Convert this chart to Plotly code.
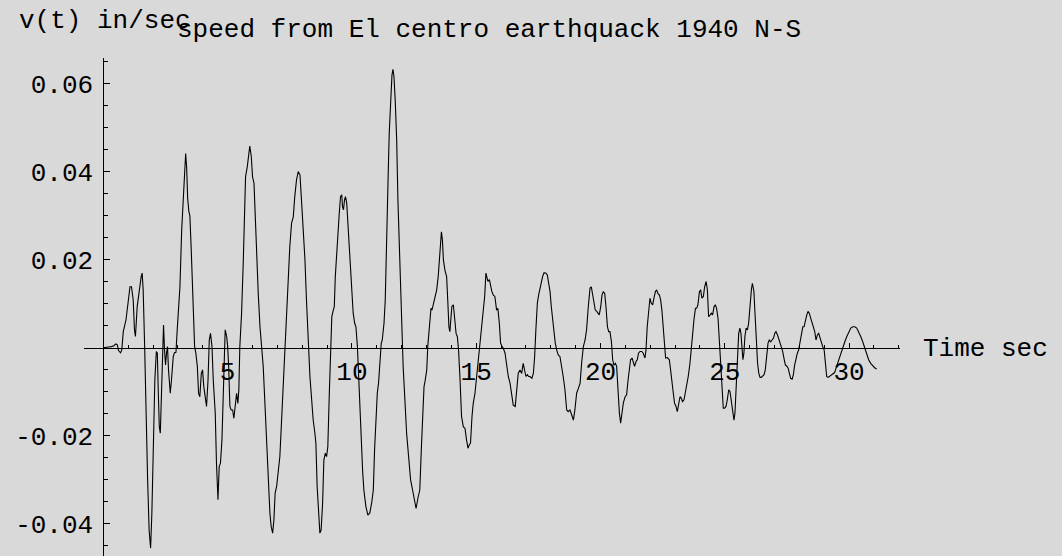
import plotly.graph_objects as go

# Velocity record, El Centro 1940 N-S
time_sec = [
    0.00, 0.06, 0.19, 0.33, 0.42, 0.50, 0.56, 0.61, 0.69, 0.74, 0.80, 0.91, 1.00, 1.07, 1.13, 1.20,
    1.25, 1.29, 1.36, 1.44, 1.52, 1.56, 1.60, 1.66, 1.71, 1.78, 1.84, 1.90, 1.95, 2.01, 2.07, 2.13,
    2.17, 2.21, 2.25, 2.29, 2.33, 2.38, 2.42, 2.46, 2.50, 2.54, 2.58, 2.62, 2.69, 2.74, 2.81, 2.86,
    2.92, 2.97, 3.03, 3.08, 3.15, 3.22, 3.27, 3.31, 3.35, 3.39, 3.44, 3.48, 3.53, 3.57, 3.62, 3.67,
    3.72, 3.78, 3.83, 3.88, 3.94, 3.99, 4.04, 4.10, 4.15, 4.21, 4.26, 4.31, 4.37, 4.42, 4.50, 4.55,
    4.61, 4.66, 4.71, 4.77, 4.82, 4.88, 4.90, 4.96, 5.00, 5.04, 5.09, 5.14, 5.20, 5.25, 5.30, 5.36,
    5.41, 5.45, 5.49, 5.56, 5.63, 5.68, 5.72, 5.79, 5.84, 5.89, 5.95, 6.00, 6.06, 6.11, 6.16, 6.23,
    6.30, 6.36, 6.43, 6.48, 6.54, 6.59, 6.65, 6.70, 6.75, 6.81, 6.86, 6.91, 6.97, 7.02, 7.10, 7.17,
    7.24, 7.30, 7.37, 7.44, 7.50, 7.57, 7.64, 7.70, 7.77, 7.84, 7.91, 7.97, 8.04, 8.11, 8.17, 8.24,
    8.31, 8.38, 8.44, 8.51, 8.55, 8.60, 8.66, 8.71, 8.76, 8.82, 8.87, 8.93, 8.98, 9.03, 9.09, 9.14,
    9.19, 9.25, 9.29, 9.33, 9.38, 9.44, 9.49, 9.54, 9.59, 9.62, 9.66, 9.70, 9.74, 9.79, 9.84, 9.89,
    9.95, 10.00, 10.05, 10.11, 10.16, 10.22, 10.27, 10.32, 10.38, 10.43, 10.48, 10.56, 10.64, 10.72, 10.80, 10.86,
    10.91, 10.97, 11.02, 11.07, 11.13, 11.18, 11.22, 11.29, 11.34, 11.40, 11.45, 11.50, 11.56, 11.61, 11.65, 11.69,
    11.74, 11.80, 11.85, 11.91, 11.96, 12.01, 12.06, 12.13, 12.20, 12.28, 12.36, 12.44, 12.51, 12.58, 12.66, 12.73,
    12.79, 12.84, 12.90, 12.95, 13.01, 13.05, 13.09, 13.14, 13.18, 13.22, 13.25, 13.30, 13.35, 13.41, 13.47, 13.51,
    13.55, 13.60, 13.64, 13.68, 13.74, 13.81, 13.86, 13.90, 13.94, 13.98, 14.02, 14.08, 14.13, 14.19, 14.24, 14.29,
    14.35, 14.41, 14.48, 14.55, 14.61, 14.67, 14.72, 14.77, 14.83, 14.88, 14.95, 15.02, 15.08, 15.15, 15.22, 15.29,
    15.34, 15.39, 15.43, 15.47, 15.53, 15.58, 15.63, 15.69, 15.75, 15.82, 15.87, 15.93, 15.98, 16.04, 16.09, 16.16,
    16.22, 16.29, 16.36, 16.43, 16.49, 16.57, 16.63, 16.69, 16.76, 16.83, 16.89, 16.95, 17.00, 17.06, 17.11, 17.16,
    17.24, 17.30, 17.35, 17.40, 17.46, 17.51, 17.56, 17.62, 17.67, 17.73, 17.81, 17.86, 17.91, 17.97, 18.02, 18.08,
    18.13, 18.18, 18.24, 18.30, 18.37, 18.44, 18.50, 18.57, 18.64, 18.70, 18.77, 18.84, 18.91, 18.97, 19.04, 19.11,
    19.18, 19.24, 19.31, 19.38, 19.44, 19.51, 19.58, 19.63, 19.68, 19.74, 19.79, 19.85, 19.91, 19.95, 20.01, 20.06,
    20.11, 20.17, 20.22, 20.28, 20.33, 20.38, 20.44, 20.49, 20.54, 20.60, 20.65, 20.70, 20.76, 20.81, 20.86, 20.92,
    20.99, 21.05, 21.11, 21.16, 21.21, 21.27, 21.32, 21.37, 21.43, 21.48, 21.53, 21.59, 21.66, 21.72, 21.79, 21.83,
    21.88, 21.94, 21.99, 22.04, 22.10, 22.15, 22.21, 22.26, 22.31, 22.37, 22.42, 22.47, 22.53, 22.58, 22.62, 22.69,
    22.77, 22.82, 22.88, 22.93, 22.98, 23.04, 23.09, 23.14, 23.20, 23.25, 23.30, 23.36, 23.41, 23.47, 23.53, 23.60,
    23.66, 23.71, 23.76, 23.82, 23.87, 23.92, 23.98, 24.03, 24.08, 24.14, 24.19, 24.25, 24.30, 24.35, 24.41, 24.46,
    24.51, 24.57, 24.62, 24.67, 24.73, 24.78, 24.83, 24.89, 24.94, 24.99, 25.05, 25.10, 25.16, 25.21, 25.26, 25.32,
    25.37, 25.41, 25.45, 25.51, 25.56, 25.61, 25.65, 25.69, 25.73, 25.77, 25.81, 25.86, 25.91, 25.96, 26.02, 26.07,
    26.11, 26.17, 26.22, 26.27, 26.32, 26.37, 26.42, 26.47, 26.53, 26.58, 26.63, 26.69, 26.74, 26.79, 26.85, 26.90,
    26.96, 27.01, 27.06, 27.12, 27.17, 27.22, 27.28, 27.33, 27.38, 27.44, 27.49, 27.55, 27.60, 27.65, 27.71, 27.76,
    27.81, 27.87, 27.92, 27.97, 28.03, 28.08, 28.14, 28.19, 28.24, 28.30, 28.35, 28.40, 28.46, 28.51, 28.57, 28.62,
    28.67, 28.73, 28.78, 28.83, 28.89, 28.94, 29.00, 29.05, 29.10, 29.16, 29.21, 29.26, 29.34, 29.42, 29.50, 29.58,
    29.67, 29.75, 29.83, 29.91, 29.99, 30.07, 30.15, 30.23, 30.31, 30.39, 30.47, 30.55, 30.63, 30.71, 30.79, 30.87,
    30.95, 31.03, 31.11,
]

velocity = [
    0.0000, 0.0001, 0.0002, 0.0003, 0.0005, 0.0009, 0.0007, -0.0006, -0.0011, -0.0005, 0.0037, 0.0064, 0.0109, 0.0139, 0.0139, 0.0109,
    0.0041, 0.0026, 0.0094, 0.0132, 0.0162, 0.0170, 0.0132, 0.0003, -0.0148, -0.0300, -0.0414, -0.0455, -0.0376, -0.0224, -0.0073, -0.0008,
    -0.0012, -0.0103, -0.0179, -0.0194, -0.0111, 0.0003, 0.0052, -0.0005, -0.0039, -0.0012, 0.0003, -0.0050, -0.0103, -0.0073, -0.0020, -0.0011,
    -0.0010, 0.0041, 0.0094, 0.0139, 0.0268, 0.0360, 0.0420, 0.0442, 0.0410, 0.0340, 0.0310, 0.0300, 0.0230, 0.0155, 0.0064, 0.0003,
    -0.0012, -0.0042, -0.0103, -0.0111, -0.0058, -0.0050, -0.0088, -0.0111, -0.0133, -0.0073, 0.0018, 0.0033, 0.0003, -0.0073, -0.0148, -0.0262,
    -0.0345, -0.0270, -0.0262, -0.0209, -0.0111, 0.0003, 0.0041, 0.0026, 0.0003, -0.0042, -0.0133, -0.0141, -0.0141, -0.0160, -0.0133, -0.0103,
    -0.0126, -0.0095, 0.0003, 0.0079, 0.0200, 0.0314, 0.0389, 0.0412, 0.0442, 0.0459, 0.0435, 0.0389, 0.0374, 0.0291, 0.0215, 0.0124,
    0.0048, 0.0003, -0.0042, -0.0103, -0.0179, -0.0255, -0.0330, -0.0376, -0.0406, -0.0421, -0.0391, -0.0330, -0.0315, -0.0292, -0.0247, -0.0164,
    -0.0073, 0.0003, 0.0079, 0.0155, 0.0230, 0.0283, 0.0298, 0.0344, 0.0382, 0.0401, 0.0393, 0.0336, 0.0276, 0.0200, 0.0109, 0.0018,
    -0.0065, -0.0118, -0.0164, -0.0194, -0.0217, -0.0315, -0.0391, -0.0421, -0.0414, -0.0353, -0.0255, -0.0239, -0.0247, -0.0224, -0.0103, 0.0003,
    0.0071, 0.0086, 0.0094, 0.0162, 0.0215, 0.0253, 0.0306, 0.0344, 0.0348, 0.0321, 0.0314, 0.0336, 0.0344, 0.0329, 0.0276, 0.0238,
    0.0185, 0.0124, 0.0079, 0.0056, 0.0048, 0.0003, -0.0073, -0.0130, -0.0210, -0.0280, -0.0323, -0.0360, -0.0380, -0.0375, -0.0350, -0.0323,
    -0.0232, -0.0156, -0.0103, -0.0080, -0.0020, 0.0011, 0.0018, 0.0056, 0.0109, 0.0223, 0.0374, 0.0488, 0.0564, 0.0620, 0.0633, 0.0617,
    0.0564, 0.0473, 0.0336, 0.0223, 0.0109, 0.0033, -0.0042, -0.0118, -0.0194, -0.0247, -0.0300, -0.0323, -0.0345, -0.0365, -0.0340, -0.0323,
    -0.0232, -0.0156, -0.0088, -0.0073, -0.0050, 0.0003, 0.0026, 0.0071, 0.0090, 0.0086, 0.0094, 0.0109, 0.0117, 0.0132, 0.0162, 0.0200,
    0.0245, 0.0264, 0.0245, 0.0200, 0.0177, 0.0162, 0.0102, 0.0048, 0.0037, 0.0079, 0.0094, 0.0098, 0.0071, 0.0033, 0.0026, -0.0005,
    -0.0073, -0.0156, -0.0179, -0.0183, -0.0209, -0.0228, -0.0220, -0.0217, -0.0156, -0.0126, -0.0103, -0.0065, -0.0020, 0.0011, 0.0048, 0.0086,
    0.0117, 0.0170, 0.0162, 0.0151, 0.0155, 0.0139, 0.0128, 0.0120, 0.0117, 0.0086, 0.0090, 0.0056, 0.0011, 0.0003, -0.0001, -0.0012,
    -0.0035, -0.0065, -0.0080, -0.0111, -0.0130, -0.0133, -0.0095, -0.0058, -0.0050, -0.0058, -0.0035, -0.0050, -0.0065, -0.0061, -0.0065, -0.0065,
    -0.0069, -0.0058, -0.0020, 0.0041, 0.0102, 0.0120, 0.0136, 0.0147, 0.0162, 0.0171, 0.0170, 0.0166, 0.0147, 0.0128, 0.0094, 0.0064,
    0.0033, 0.0011, -0.0005, -0.0016, -0.0020, -0.0042, -0.0065, -0.0095, -0.0141, -0.0145, -0.0141, -0.0152, -0.0164, -0.0141, -0.0103, -0.0092,
    -0.0080, -0.0035, 0.0003, 0.0018, 0.0041, 0.0094, 0.0136, 0.0139, 0.0124, 0.0102, 0.0086, 0.0083, 0.0079, 0.0075, 0.0094, 0.0120,
    0.0128, 0.0124, 0.0094, 0.0048, 0.0037, 0.0037, 0.0014, -0.0027, -0.0039, -0.0035, -0.0042, -0.0095, -0.0148, -0.0171, -0.0150, -0.0125,
    -0.0111, -0.0107, -0.0073, -0.0042, -0.0027, -0.0023, -0.0035, -0.0042, -0.0031, -0.0027, -0.0012, -0.0008, -0.0008, -0.0012, -0.0023, -0.0005,
    0.0048, 0.0094, 0.0113, 0.0102, 0.0098, 0.0113, 0.0128, 0.0132, 0.0124, 0.0120, 0.0109, 0.0086, 0.0048, 0.0003, -0.0023, -0.0022,
    -0.0027, -0.0050, -0.0088, -0.0103, -0.0126, -0.0133, -0.0145, -0.0126, -0.0111, -0.0114, -0.0122, -0.0118, -0.0103, -0.0080, -0.0065, -0.0035,
    -0.0005, 0.0033, 0.0064, 0.0090, 0.0090, 0.0098, 0.0128, 0.0132, 0.0113, 0.0117, 0.0139, 0.0151, 0.0132, 0.0071, 0.0075, 0.0079,
    0.0075, 0.0094, 0.0098, 0.0090, 0.0067, 0.0018, -0.0042, -0.0103, -0.0137, -0.0137, -0.0133, -0.0118, -0.0095, -0.0099, -0.0118, -0.0141,
    -0.0164, -0.0148, -0.0103, -0.0020, 0.0033, 0.0045, 0.0033, 0.0003, -0.0027, -0.0012, 0.0026, 0.0045, 0.0041, 0.0056, 0.0102, 0.0132,
    0.0147, 0.0130, 0.0075, 0.0010, -0.0035, -0.0058, -0.0067, -0.0067, -0.0064, -0.0061, -0.0050, -0.0012, 0.0011, 0.0018, 0.0014, 0.0018,
    0.0022, 0.0033, 0.0037, 0.0030, 0.0022, 0.0014, 0.0003, -0.0008, -0.0023, -0.0039, -0.0041, -0.0046, -0.0058, -0.0069, -0.0071, -0.0061,
    -0.0039, -0.0020, -0.0012, -0.0005, 0.0014, 0.0033, 0.0048, 0.0048, 0.0064, 0.0075, 0.0083, 0.0079, 0.0067, 0.0056, 0.0048, 0.0037,
    0.0018, 0.0030, 0.0033, 0.0022, 0.0011, 0.0003, -0.0005, -0.0035, -0.0065, -0.0067, -0.0065, -0.0064, -0.0061, -0.0056, -0.0042, -0.0027,
    -0.0012, 0.0003, 0.0014, 0.0026, 0.0037, 0.0045, 0.0048, 0.0048, 0.0045, 0.0037, 0.0026, 0.0014, -0.0001, -0.0016, -0.0027, -0.0035,
    -0.0041, -0.0045, -0.0048,
]

x_ticks = [5, 10, 15, 20, 25, 30]
x_minor = [i for i in range(1, 33) if i % 5 != 0]
y_ticks = [-0.04, -0.02, 0.02, 0.04, 0.06]
y_tick_text = ["-0.04", "-0.02", "0.02", "0.04", "0.06"]
y_minor = [-0.045, -0.035, -0.03, -0.025, -0.015, -0.01, -0.005, 0.005, 0.01, 0.015,
           0.025, 0.03, 0.035, 0.045, 0.05, 0.055, 0.065]

x_range = [-0.78, 32.05]
y_range = [-0.0473, 0.0659]

FONT = "Liberation Mono, Courier New, monospace"
BG = "#d9d9d9"
FS = 26

fig = go.Figure()
fig.add_trace(go.Scatter(x=time_sec, y=velocity, mode="lines",
                         line=dict(color="black", width=1.1), hoverinfo="skip"))

x_pos = (0 - y_range[0]) / (y_range[1] - y_range[0])
y_pos = (0 - x_range[0]) / (x_range[1] - x_range[0])

fig.update_layout(
    width=1062, height=556,
    margin=dict(l=84, r=162, t=58, b=0, pad=0),
    paper_bgcolor=BG, plot_bgcolor=BG,
    showlegend=False,
    font=dict(family=FONT, size=FS, color="black"),
    xaxis=dict(
        range=x_range, anchor="free", position=x_pos,
        showgrid=False, zeroline=False, showline=True, linecolor="black", linewidth=1,
        ticks="inside", ticklen=5, tickwidth=1, tickcolor="black",
        tickmode="array", tickvals=x_ticks, ticktext=[str(v) for v in x_ticks],
        tickfont=dict(family=FONT, size=FS, color="black"),
        minor=dict(tickmode="array", tickvals=x_minor, ticks="inside", ticklen=3,
                   tickwidth=1, tickcolor="black", showgrid=False),
        automargin=False,
    ),
    yaxis=dict(
        range=y_range, anchor="free", position=y_pos,
        showgrid=False, zeroline=False, showline=True, linecolor="black", linewidth=1,
        ticks="inside", ticklen=6, tickwidth=1, tickcolor="black",
        tickmode="array", tickvals=y_ticks, ticktext=y_tick_text,
        tickfont=dict(family=FONT, size=FS, color="black"),
        ticklabelstandoff=5,
        minor=dict(tickmode="array", tickvals=y_minor, ticks="inside", ticklen=4,
                   tickwidth=1, tickcolor="black", showgrid=False),
        automargin=False,
    ),
    annotations=[
        dict(text="v(t) in/sec", xref="paper", yref="paper",
             x=(17 - 84) / 816, y=(556 - 21) / 498, xanchor="left", yanchor="middle",
             showarrow=False, font=dict(family=FONT, size=FS, color="black")),
        dict(text="speed from El centro earthquack 1940 N-S", xref="paper", yref="paper",
             x=(175 - 84) / 816, y=(556 - 30) / 498, xanchor="left", yanchor="middle",
             showarrow=False, font=dict(family=FONT, size=FS, color="black")),
        dict(text="Time sec", xref="paper", yref="paper",
             x=(921 - 84) / 816, y=(556 - 349) / 498, xanchor="left", yanchor="middle",
             showarrow=False, font=dict(family=FONT, size=FS, color="black")),
    ],
)

fig.write_html("out.html", config={"displayModeBar": False},
               post_script="document.body.style.margin='0';")
